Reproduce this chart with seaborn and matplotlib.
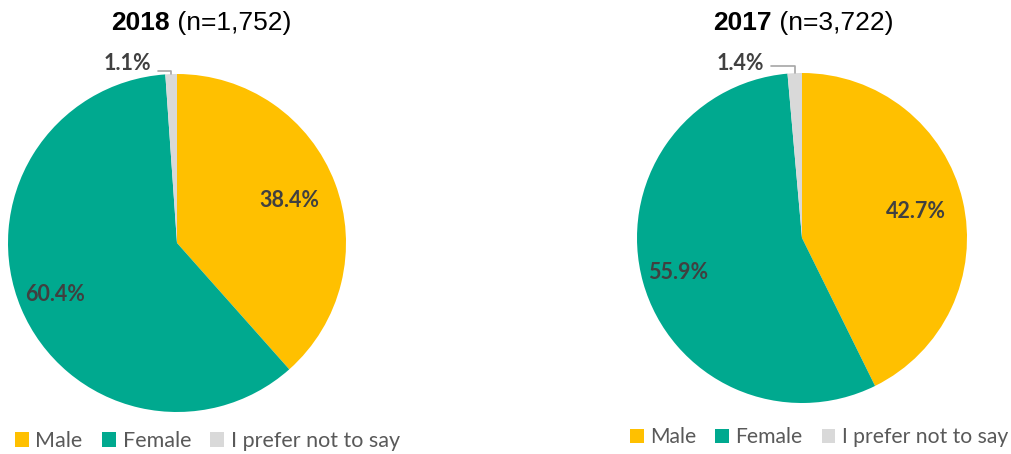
import matplotlib
matplotlib.use("Agg")
import matplotlib.pyplot as plt
import seaborn as sns
import numpy as np

# Respondent gender split per survey year (percent)
categories = ["Male", "Female", "I prefer not to say"]
share_2018 = [38.4, 60.4, 1.1]
share_2017 = [42.7, 55.9, 1.4]
years = ["2018", "2017"]
sample_sizes = ["1,752", "3,722"]

sns.set_theme(style="white")
plt.rcParams["font.family"] = ["Lato", "DejaVu Sans"]
palette = sns.color_palette(["#FFC000", "#00A98F", "#D9D9D9"])

W, H = 1011, 454
fig = plt.figure(figsize=(W / 100, H / 100), dpi=100)


def px_axes(x0, y0, x1, y1):
    return fig.add_axes([x0 / W, 1 - y1 / H, (x1 - x0) / W, (y1 - y0) / H])


def draw_pie(ax, values, small_label_pos, elbow_y):
    wedges, _ = ax.pie(values, colors=palette, startangle=90, counterclock=False,
                       radius=1, wedgeprops=dict(linewidth=0))
    ax.set_xlim(-1, 1)
    ax.set_ylim(-1, 1)
    ax.set_aspect("equal")
    ax.axis("off")
    label_r = [0.71, 0.78]
    for i, (w, v) in enumerate(zip(wedges, values)):
        mid = np.deg2rad((w.theta1 + w.theta2) / 2)
        txt = f"{v:.1f}%"
        if i < 2:
            ax.text(label_r[i] * np.cos(mid), label_r[i] * np.sin(mid), txt,
                    ha="center", va="center", fontsize=15.5, fontweight="bold",
                    color="#404040")
        else:
            ex, ey = np.cos(mid), np.sin(mid)
            tx, ty = small_label_pos
            ax.plot([ex, ex, tx + 0.04], [ey, elbow_y, elbow_y], color="#A6A6A6",
                    lw=1.2, clip_on=False, solid_joinstyle="round")
            ax.text(tx, ty, txt, ha="right", va="center", fontsize=15.5,
                    fontweight="bold", color="#404040", clip_on=False)
    return wedges


def title(x_split, y_base, year, n):
    fig.text(x_split / W, 1 - y_base / H, year, ha="right", va="baseline",
             fontsize=19, fontweight="bold", color="black",
             family=["Liberation Sans", "DejaVu Sans"])
    fig.text(x_split / W, 1 - y_base / H, f" (n={n})", ha="left", va="baseline",
             fontsize=19, color="black", family=["Liberation Sans", "DejaVu Sans"])


def legend(handles, x, y, size):
    fig.legend(handles, categories, loc="center left",
               bbox_to_anchor=(x / W, 1 - y / H), ncol=3, frameon=False,
               handlelength=0.65, handleheight=0.65, handletextpad=0.3,
               columnspacing=0.9, borderpad=0, borderaxespad=0,
               prop={"size": size}, labelcolor="#595959")


ax_left = px_axes(8, 74, 346, 412)
w_left = draw_pie(ax_left, share_2018, (-0.15, 1.06), 1.02)
title(170, 30, years[0], sample_sizes[0])
legend(w_left, 15, 441, 15.5)

ax_right = px_axes(637, 73, 967, 403)
w_right = draw_pie(ax_right, share_2017, (-0.23, 1.055), 1.04)
title(772, 30, years[1], sample_sizes[1])
legend(w_right, 630, 437, 15.2)

fig.savefig("out.png", dpi=100)
